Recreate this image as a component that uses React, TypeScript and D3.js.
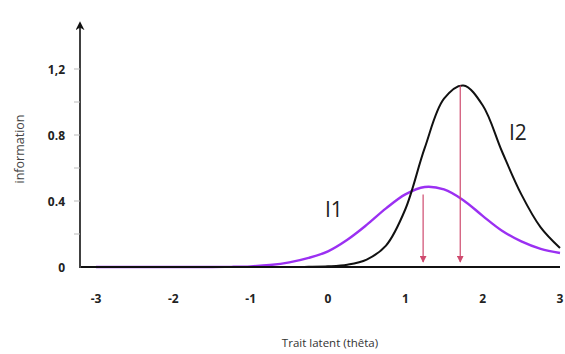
import React from 'react';
import * as d3 from 'd3';

// theta grid and information values
const theta = [-3, -2.5, -2, -1.5, -1.25, -1, -0.75, -0.5, -0.25, 0, 0.25, 0.5, 0.75, 1, 1.25, 1.5, 1.75, 2, 2.25, 2.5, 2.75, 3];
const infoI1 = [0, 0, 0, 0, 0.001, 0.004, 0.012, 0.028, 0.055, 0.095, 0.165, 0.255, 0.355, 0.44, 0.485, 0.47, 0.405, 0.31, 0.22, 0.155, 0.11, 0.085];
const infoI2 = [0, 0, 0, 0, 0, 0, 0, 0, 0.001, 0.004, 0.014, 0.045, 0.13, 0.35, 0.72, 1.02, 1.1, 0.98, 0.7, 0.44, 0.24, 0.115];

const xTicks = [-3, -2, -1, 0, 1, 2, 3];
const yTickLabels = [
  { v: 0, label: '0' },
  { v: 0.4, label: '0.4' },
  { v: 0.8, label: '0.8' },
  { v: 1.2, label: '1,2' },
];
const yMinorTicks = [0.2, 0.4, 0.6, 0.8, 1.0, 1.2];

// red arrows at the peaks: theta position and top value
const arrowTheta = [1.23, 1.71];
const arrowTop = [0.44, 1.1];

const W = 565;
const H = 354;

export default function App() {
  const x = d3.scaleLinear().domain([-3, 3]).range([96, 560]);
  const y = d3.scaleLinear().domain([0, 1.2]).range([267, 69]);

  const line = (vals: number[]) =>
    d3.line<number>()
      .x((_, i) => x(theta[i]))
      .y(d => y(d))
      .curve(d3.curveCatmullRom.alpha(0.5))(vals) as string;

  const tickFont = "'Open Sans', sans-serif";
  const arrowColor = '#cf4a6e';

  return (
    <svg width={W} height={H} style={{ position: 'absolute', left: 0, top: 0, background: '#fff' }}>
      <defs>
        <marker id="axArrow" viewBox="0 0 10 10" refX="8" refY="5" markerWidth="9" markerHeight="9" orient="auto" markerUnits="userSpaceOnUse">
          <path d="M0,0 L10,5 L0,10 L3,5 Z" fill="#111" />
        </marker>
        <marker id="redArrow" viewBox="0 0 10 10" refX="9" refY="5" markerWidth="7" markerHeight="7" orient="auto" markerUnits="userSpaceOnUse">
          <path d="M0,0 L10,5 L0,10 Z" fill={arrowColor} />
        </marker>
      </defs>

      {/* y axis with arrow */}
      <line x1={80} x2={80} y1={268} y2={23} stroke="#111" strokeWidth={1.6} markerEnd="url(#axArrow)" />
      {yMinorTicks.map(v => (
        <line key={v} x1={74} x2={80} y1={y(v)} y2={y(v)} stroke="#bbb" strokeWidth={1} />
      ))}
      {yTickLabels.map(t => (
        <text key={t.label} x={65} y={y(t.v) + 4.5} textAnchor="end" fontFamily={tickFont} fontWeight={700} fontSize={12} fill="#222">
          {t.label}
        </text>
      ))}

      {/* x axis */}
      <line x1={81} x2={560} y1={267} y2={267} stroke="#111" strokeWidth={2.2} />
      {xTicks.map(t => (
        <text key={t} x={x(t)} y={303} textAnchor="middle" fontFamily={tickFont} fontWeight={700} fontSize={12} fill="#222">
          {t < 0 ? '-' + Math.abs(t) : String(t)}
        </text>
      ))}

      {/* curves */}
      <path d={line(infoI1)} fill="none" stroke="#9b30f2" strokeWidth={2.4} />
      <path d={line(infoI2)} fill="none" stroke="#111" strokeWidth={2} />

      {/* arrows */}
      {arrowTheta.map((t, i) => (
        <line key={i} x1={x(t)} x2={x(t)} y1={y(arrowTop[i])} y2={262} stroke={arrowColor} strokeWidth={1.2} markerEnd="url(#redArrow)" />
      ))}

      {/* curve labels */}
      <text x={325} y={217} fontFamily="'Open Sans', sans-serif" fontSize={21} fill="#222">I1</text>
      <text x={509} y={140} fontFamily="'Open Sans', sans-serif" fontSize={21} fill="#222">I2</text>

      {/* axis titles */}
      <text transform="translate(24,149) rotate(-90)" textAnchor="middle" fontFamily="'Open Sans', sans-serif" fontSize={12.5} fill="#444">
        information
      </text>
      <text x={330} y={347} textAnchor="middle" fontFamily="'Open Sans', sans-serif" fontSize={11.5} fill="#333">
        Trait latent (thêta)
      </text>
    </svg>
  );
}
